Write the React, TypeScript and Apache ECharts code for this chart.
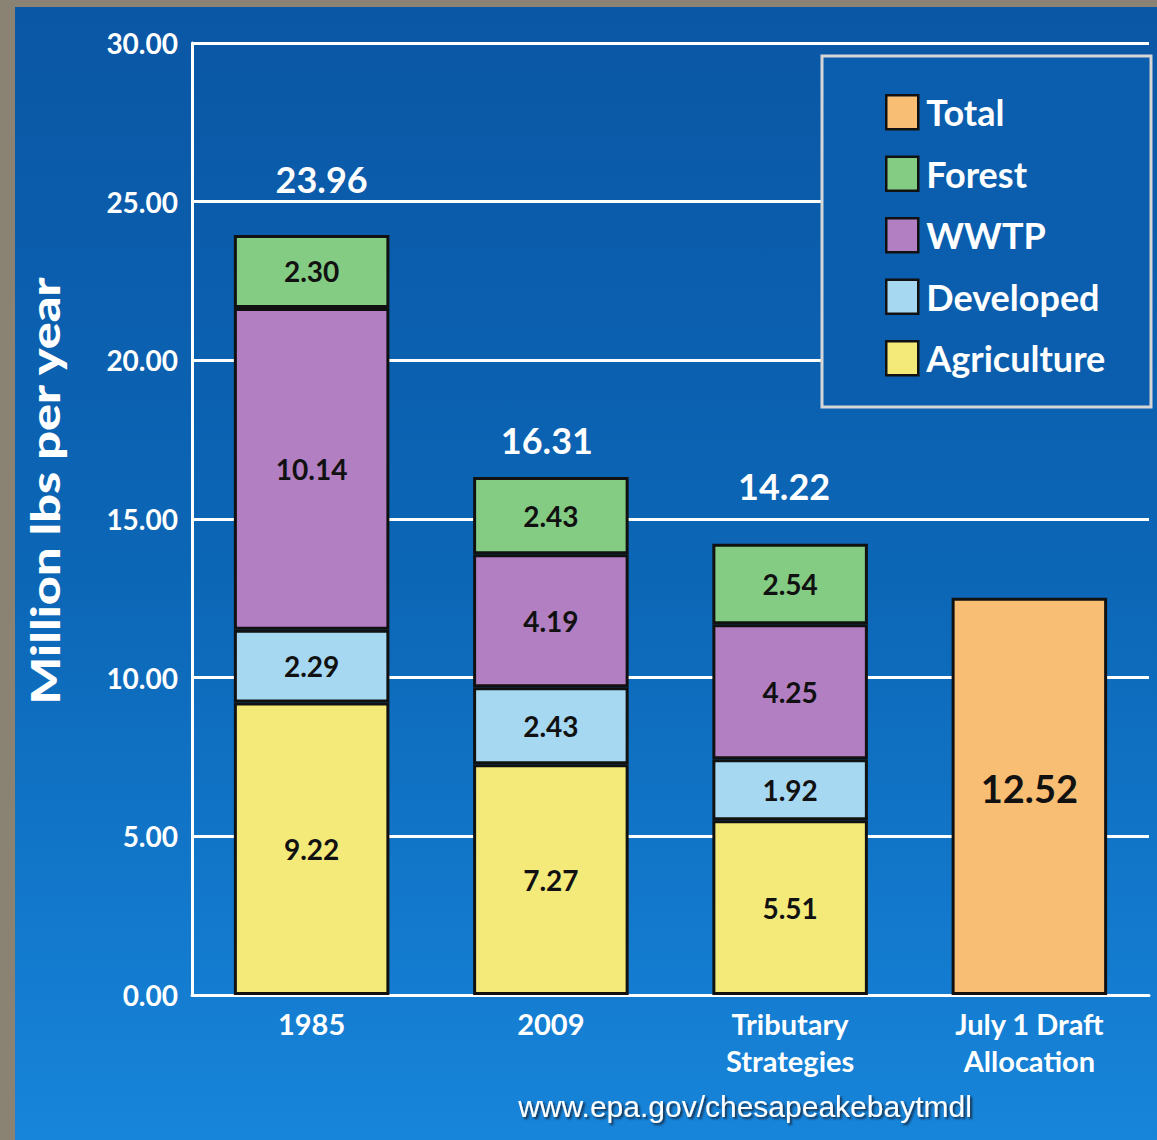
import React, { useEffect, useRef } from "react";
import * as echarts from "echarts";

const categories = ["1985", "2009", "Tributary\nStrategies", "July 1 Draft\nAllocation"];
const agriculture = [9.22, 7.27, 5.51, "-"];
const developed = [2.29, 2.43, 1.92, "-"];
const wwtp = [10.14, 4.19, 4.25, "-"];
const forest = [2.3, 2.43, 2.54, "-"];
const totalAlloc = ["-", "-", "-", 12.52];
const stackTotals = [23.96, 16.31, 14.22];
const totalLabelOffsets = [
  [10, -33],
  [-4, -14],
  [-6, -35],
];

const FONT = "Lato";

export default function App() {
  const ref = useRef<HTMLDivElement>(null);
  useEffect(() => {
    document.body.style.margin = "0";
    const chart = echarts.init(ref.current!, null, { renderer: "svg" });
    const segLabel = {
      show: true,
      position: "inside",
      color: "#111",
      fontFamily: FONT,
      fontWeight: "bold",
      fontSize: 28,
      formatter: (p: any) => Number(p.value).toFixed(2),
    };
    const border = { borderColor: "#111", borderWidth: 3 };
    const mk = (name: string, data: any[], color: string) => ({
      name,
      type: "bar",
      stack: "a",
      barWidth: "65%",
      data,
      itemStyle: { color, ...border },
      label: segLabel,
    });
    chart.setOption({
      animation: false,
      backgroundColor: "transparent",
      grid: { left: 192, top: 43, right: 8, bottom: 145, containLabel: false },
      legend: {
        orient: "vertical",
        left: 885,
        top: 94,
        padding: 0,
        itemWidth: 32,
        itemHeight: 34,
        itemGap: 25,
        icon: "rect",
        data: ["Total", "Forest", "WWTP", "Developed", "Agriculture"],
        itemStyle: { borderColor: "#111", borderWidth: 2.5 },
        textStyle: {
          color: "#fff",
          fontFamily: FONT,
          fontWeight: "bold",
          fontSize: 36,
          lineHeight: 34,
          padding: [0, 0, 0, 3],
        },
        z: 10,
      },
      xAxis: {
        type: "category",
        data: categories,
        axisLine: { lineStyle: { color: "#fff", width: 3 } },
        axisTick: { show: false },
        axisLabel: {
          color: "#fff",
          fontFamily: FONT,
          fontWeight: "bold",
          fontSize: 29,
          lineHeight: 37,
          margin: 10,
          interval: 0,
        },
      },
      yAxis: {
        type: "value",
        min: 0,
        max: 30,
        interval: 5,
        axisLine: { show: true, lineStyle: { color: "#fff", width: 3 } },
        axisTick: { show: false },
        splitLine: { lineStyle: { color: "#fff", width: 3 } },
        axisLabel: {
          color: "#fff",
          fontFamily: FONT,
          fontWeight: "bold",
          fontSize: 28,
          margin: 14,
          formatter: (v: number) => v.toFixed(2),
        },
      },
      series: [
        mk("Agriculture", agriculture, "#f4ea7a"),
        mk("Developed", developed, "#a6d8f2"),
        mk("WWTP", wwtp, "#b27fc2"),
        mk("Forest", forest, "#84cc84"),
        {
          ...mk("Total", totalAlloc, "#f8be73"),
          label: { ...segLabel, fontSize: 38, offset: [0, -8] },
        },
        {
          name: "stackTotal",
          type: "bar",
          stack: "a",
          barWidth: "65%",
          itemStyle: { color: "transparent", borderWidth: 0 },
          data: stackTotals.map((_, i) => ({
            value: 0,
            label: { offset: totalLabelOffsets[i] },
          })),
          label: {
            show: true,
            position: "top",
            color: "#fff",
            fontFamily: FONT,
            fontWeight: "bold",
            fontSize: 36,
            formatter: (p: any) => stackTotals[p.dataIndex].toFixed(2),
          },
          z: 5,
        },
      ],
      graphic: [
        {
          type: "rect",
          z: 3,
          shape: { x: 822, y: 56, width: 329, height: 351 },
          style: { fill: "#0b5ead", stroke: "#d6d6d6", lineWidth: 3 },
        },
        {
          type: "text",
          x: 45,
          y: 491,
          rotation: Math.PI / 2,
          scaleX: 1.26,
          z: 5,
          style: {
            text: "Million lbs per year",
            fill: "#fff",
            font: `900 40px ${FONT}`,
            align: "center",
            verticalAlign: "middle",
          },
        },
        {
          type: "text",
          x: 745,
          y: 1106,
          z: 5,
          style: {
            text: "www.epa.gov/chesapeakebaytmdl",
            fill: "#fff",
            font: "30px 'Liberation Sans'",
            align: "center",
            verticalAlign: "middle",
            textShadowColor: "rgba(20,20,40,0.8)",
            textShadowBlur: 2,
            textShadowOffsetX: 2,
            textShadowOffsetY: 2,
          },
        },
      ],
    });
    return () => chart.dispose();
  }, []);
  return (
    <div style={{ position: "absolute", left: 0, top: 0, width: 1157, height: 1140, background: "#8a8273" }}>
      <div
        style={{
          position: "absolute",
          left: 15,
          top: 7,
          width: 1142,
          height: 1133,
          background: "linear-gradient(#0a57a5 0%, #0c66b6 50%, #1785da 100%)",
        }}
      />
      <div ref={ref} style={{ position: "absolute", left: 0, top: 0, width: 1157, height: 1140 }} />
    </div>
  );
}
